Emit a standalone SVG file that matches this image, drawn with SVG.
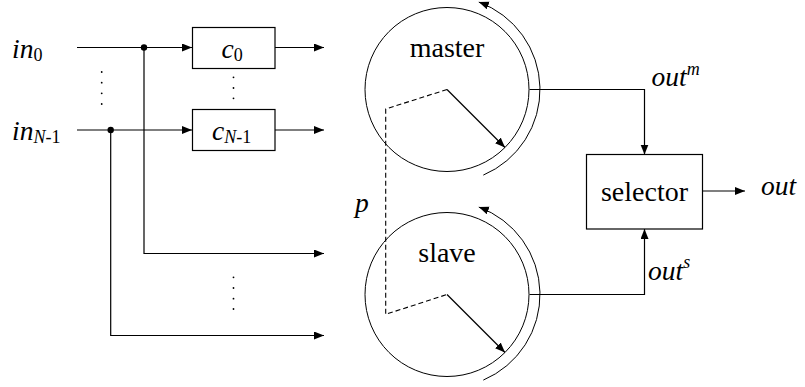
<svg xmlns="http://www.w3.org/2000/svg" width="805" height="387" viewBox="0 0 805 387">
  <style>
    .ln { fill: none; stroke: #000; stroke-width: 1.2; }
    .ring { fill: none; stroke: #000; stroke-width: 1; }
    .dash { fill: none; stroke: #000; stroke-width: 1.1; stroke-dasharray: 5 3; }
    .box { fill: #fff; stroke: #000; stroke-width: 1.2; }
    .t { font-family: "Liberation Serif", "Times New Roman", serif; font-size: 28px; fill: #000; }
    .i { font-style: italic; font-size: 27.5px; }
    .sub { font-size: 18px; }
    .dot { fill: #000; }
  </style>
  <defs>
    <marker id="arr" markerUnits="userSpaceOnUse" markerWidth="11" markerHeight="9" refX="10" refY="4" orient="auto">
      <path d="M0,0 L10,4 L0,8 z" fill="#000"/>
    </marker>
  </defs>

  <g id="connectors">
    <path class="ln" d="M77,47.5 H192" marker-end="url(#arr)"/>
    <path class="ln" d="M77,130 H192" marker-end="url(#arr)"/>
    <path class="ln" d="M144,47.5 V253.5 H324" marker-end="url(#arr)"/>
    <path class="ln" d="M110.7,130 V335.5 H324" marker-end="url(#arr)"/>
    <path class="ln" d="M275,47.5 H324" marker-end="url(#arr)"/>
    <path class="ln" d="M275,130 H324" marker-end="url(#arr)"/>
    <path class="ln" d="M529.5,89.5 H644.5 V154.5" marker-end="url(#arr)"/>
    <path class="ln" d="M529.5,294.5 H644.5 V229" marker-end="url(#arr)"/>
    <path class="ln" d="M702.5,191 H745" marker-end="url(#arr)"/>
    <!-- shared phase pointer linking both dials -->
    <path class="dash" d="M447,89.5 L385.7,109 V314.3 L447,294.5"/>
    <circle class="dot" cx="144" cy="47.5" r="3.2"/>
    <circle class="dot" cx="110.7" cy="130" r="3.2"/>
    <!-- ellipsis dots -->
    <g class="dot">
      <circle cx="101.7" cy="72" r="0.9"/>
      <circle cx="101.7" cy="82.7" r="0.9"/>
      <circle cx="101.7" cy="93.3" r="0.9"/>
      <circle cx="101.7" cy="104" r="0.9"/>
      <circle cx="233.5" cy="77.3" r="0.9"/>
      <circle cx="233.5" cy="88" r="0.9"/>
      <circle cx="233.5" cy="98.3" r="0.9"/>
      <circle cx="233.5" cy="277.3" r="0.9"/>
      <circle cx="233.5" cy="288" r="0.9"/>
      <circle cx="233.5" cy="298.7" r="0.9"/>
      <circle cx="233.5" cy="309" r="0.9"/>
    </g>
  </g>

  <g id="in0">
    <text class="t" x="12" y="57.5"><tspan class="i">in</tspan><tspan class="sub" dy="3">0</tspan></text>
  </g>
  <g id="inN1">
    <text class="t" x="12" y="140"><tspan class="i">in</tspan><tspan class="sub i" dy="3">N</tspan><tspan class="sub">-1</tspan></text>
  </g>

  <g id="c0">
    <rect class="box" x="192.5" y="27.5" width="82.5" height="41"/>
    <text class="t" x="221.5" y="58"><tspan class="i">c</tspan><tspan class="sub" dy="3">0</tspan></text>
  </g>
  <g id="cN1">
    <rect class="box" x="192.5" y="109.5" width="82.5" height="41"/>
    <text class="t" x="212" y="140"><tspan class="i">c</tspan><tspan class="sub i" dy="3">N</tspan><tspan class="sub">-1</tspan></text>
  </g>

  <g id="master">
    <circle class="ring" cx="447" cy="89.5" r="82"/>
    <text class="t" x="447" y="56.5" text-anchor="middle">master</text>
    <path class="ln" d="M447,89.5 L505,147.5" marker-end="url(#arr)"/>
    <path class="ring" d="M483.3,175.1 A93,93 0 0 0 478.8,2.1" marker-end="url(#arr)"/>
  </g>

  <g id="slave">
    <circle class="ring" cx="447" cy="294.5" r="82"/>
    <text class="t" x="447" y="261.5" text-anchor="middle">slave</text>
    <path class="ln" d="M447,294.5 L505,352.5" marker-end="url(#arr)"/>
    <path class="ring" d="M483.3,380.1 A93,93 0 0 0 478.8,207.1" marker-end="url(#arr)"/>
  </g>

  <g id="p-label">
    <text class="t i" x="355" y="211.5">p</text>
  </g>

  <g id="selector">
    <rect class="box" x="586.5" y="154.5" width="116" height="74.5"/>
    <text class="t" x="644.5" y="200.5" text-anchor="middle">selector</text>
  </g>

  <g id="labels">
    <text class="t i" x="651.5" y="85.5">out<tspan class="sub" dy="-11">m</tspan></text>
    <text class="t i" x="648" y="280">out<tspan class="sub" dy="-12">s</tspan></text>
    <text class="t i" x="761" y="195">out</text>
  </g>
</svg>
